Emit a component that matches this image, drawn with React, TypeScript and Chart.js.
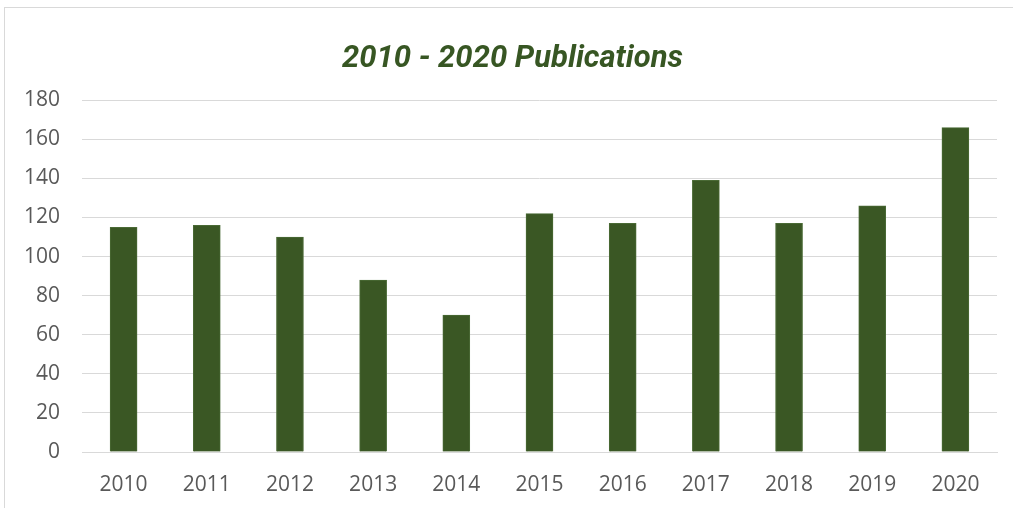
import React, { useEffect, useRef } from "react";
import { Chart, registerables } from "chart.js";

Chart.register(...registerables);

const categories = ["2010", "2011", "2012", "2013", "2014", "2015", "2016", "2017", "2018", "2019", "2020"];
const publications = [115, 116, 110, 88, 70, 122, 117, 139, 117, 126, 166];
const yTicks = [0, 20, 40, 60, 80, 100, 120, 140, 160, 180];
const titleText = "2010 - 2020 Publications";

export default function App() {
  const ref = useRef<HTMLCanvasElement | null>(null);

  useEffect(() => {
    document.body.style.margin = "0";
    const ctx = ref.current;
    if (!ctx) return;
    const chart = new Chart(ctx, {
      type: "bar",
      data: {
        labels: categories,
        datasets: [
          {
            data: publications,
            backgroundColor: "#3a5724",
            borderColor: "#4a6a35",
            borderWidth: 1,
            barThickness: 27,
          },
        ],
      },
      options: {
        animation: false,
        responsive: false,
        maintainAspectRatio: false,
        layout: { padding: 0 },
        plugins: {
          legend: { display: false },
          tooltip: { enabled: false },
          title: {
            display: true,
            text: titleText,
            color: "#375623",
            font: { family: "Roboto", size: 31, weight: "bold", style: "italic" },
            padding: { top: 33, bottom: 22 },
          },
        },
        scales: {
          x: {
            grid: { display: false, drawTicks: false },
            border: { display: true, color: "#d9d9d9", width: 1 },
            ticks: {
              color: "#595959",
              font: { family: "Open Sans", size: 21 },
              padding: 20,
              maxRotation: 0,
            },
            afterFit: (s: any) => {
              s.height = 61;
            },
          },
          y: {
            min: 0,
            max: 180,
            afterBuildTicks: (s: any) => {
              s.ticks = yTicks.map((v) => ({ value: v }));
            },
            grid: { color: "#d9d9d9", lineWidth: 1, drawTicks: false },
            border: { display: false },
            ticks: {
              color: "#595959",
              font: { family: "Open Sans", size: 21 },
              padding: 22,
            },
            afterFit: (s: any) => {
              s.width = 77;
            },
          },
          yRight: {
            position: "right",
            min: 0,
            max: 180,
            grid: { display: false, drawTicks: false },
            border: { display: false },
            ticks: { display: false },
            afterFit: (s: any) => {
              s.width = 23;
            },
          },
        },
      },
    });
    return () => chart.destroy();
  }, []);

  return (
    <div
      style={{
        position: "absolute",
        left: 4,
        top: 7,
        width: 1020,
        height: 510,
        border: "1px solid #d9d9d9",
        background: "#fff",
        boxSizing: "border-box",
      }}
    >
      <canvas ref={ref} width={1015} height={505} style={{ display: "block" }} />
    </div>
  );
}
